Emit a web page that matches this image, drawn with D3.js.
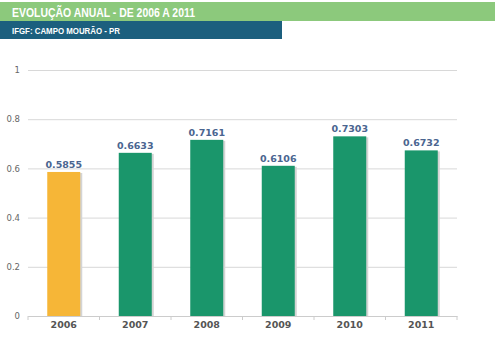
<!DOCTYPE html>
<html>
<head>
<meta charset="utf-8">
<script src="https://cdn.jsdelivr.net/npm/d3@7"></script>
<style>
  body { margin: 0; background: #fff; font-family: "DejaVu Sans", Verdana, sans-serif; }
  #chart { width: 500px; height: 342px; }
</style>
</head>
<body>
<div id="chart"></div>
<script>
/* ── DATA ── */
const years  = ['2006','2007','2008','2009','2010','2011'];
const values = [0.5855, 0.6633, 0.7161, 0.6106, 0.7303, 0.6732];
const yTicks = [0, 0.2, 0.4, 0.6, 0.8, 1];
const title    = 'EVOLUÇÃO ANUAL - DE 2006 A 2011';
const subtitle = 'IFGF: CAMPO MOURÃO - PR';

const W = 500, H = 342;
const margin = { top: 70, right: 43, bottom: 26, left: 28 };
const iW = W - margin.left - margin.right;
const iH = H - margin.top - margin.bottom;

const svg = d3.select('#chart').append('svg').attr('width', W).attr('height', H);

// header bars
svg.append('rect').attr('x', 0).attr('y', 2).attr('width', 495).attr('height', 19).attr('fill', '#8CC97C');
svg.append('rect').attr('x', 0).attr('y', 21).attr('width', 282).attr('height', 18).attr('fill', '#1C5F7E');
svg.append('text').attr('x', 12).attr('y', 16.5).attr('fill', '#fff')
  .attr('font-family', 'Arial, "Liberation Sans", sans-serif').attr('font-weight', 'bold').attr('font-size', 12.5)
  .attr('textLength', 183).attr('lengthAdjust', 'spacingAndGlyphs')
  .text(title);
svg.append('text').attr('x', 12).attr('y', 34).attr('fill', '#fff')
  .attr('font-family', 'Arial, "Liberation Sans", sans-serif').attr('font-weight', 'bold').attr('font-size', 9.5)
  .attr('textLength', 108).attr('lengthAdjust', 'spacingAndGlyphs')
  .text(subtitle);

const g = svg.append('g').attr('transform', `translate(${margin.left},${margin.top})`);

const x = d3.scaleBand().domain(years).range([0, iW]).paddingInner(0).paddingOuter(0);
const y = d3.scaleLinear().domain([0, 1]).range([iH, 0]);

// grid
g.append('g').call(d3.axisLeft(y).tickValues(yTicks).tickSize(-iW).tickFormat(''))
  .call(a => a.select('.domain').remove())
  .call(a => a.selectAll('line').attr('stroke', '#d8d8d8').attr('stroke-width', 1));

// y labels
g.append('g').call(d3.axisLeft(y).tickValues(yTicks).tickSize(0).tickPadding(8).tickFormat(d3.format('')))
  .call(a => a.select('.domain').remove())
  .call(a => a.selectAll('text').attr('fill', '#666').attr('font-size', 8.5)
    .attr('font-family', '"DejaVu Sans", Verdana, sans-serif'));

const barW = 33;
const color = (d, i) => i === 0 ? '#F6B637' : '#1A966B';

// shadows
g.selectAll('.shadow').data(values).enter().append('rect')
  .attr('x', (d, i) => x(years[i]) + x.bandwidth() / 2 - barW / 2 + 2)
  .attr('y', d => y(d) + 1)
  .attr('width', barW).attr('height', d => iH - y(d) - 1)
  .attr('fill', '#d4d4d4');

// bars
g.selectAll('.bar').data(values).enter().append('rect')
  .attr('x', (d, i) => x(years[i]) + x.bandwidth() / 2 - barW / 2)
  .attr('y', d => y(d))
  .attr('width', barW).attr('height', d => iH - y(d))
  .attr('fill', color);

// value labels
g.selectAll('.val').data(values).enter().append('text')
  .attr('x', (d, i) => x(years[i]) + x.bandwidth() / 2)
  .attr('y', d => y(d) - 4)
  .attr('text-anchor', 'middle').attr('fill', '#4A6590')
  .attr('font-weight', 'bold').attr('font-size', 9.5)
  .text(d => d.toFixed(4));

// x axis
const xa = g.append('g').attr('transform', `translate(0,${iH})`)
  .call(d3.axisBottom(x).tickSize(0).tickPadding(5));
xa.select('.domain').attr('stroke', '#ccc');
xa.selectAll('text').attr('fill', '#555').attr('font-weight', 'bold').attr('font-size', 9.5)
  .attr('font-family', '"DejaVu Sans", Verdana, sans-serif');

// band boundary ticks
g.selectAll('.btick').data(years.concat(['end'])).enter().append('line')
  .attr('x1', (d, i) => i * x.step()).attr('x2', (d, i) => i * x.step())
  .attr('y1', iH).attr('y2', iH + 4)
  .attr('stroke', '#ccc');
</script>
</body>
</html>
